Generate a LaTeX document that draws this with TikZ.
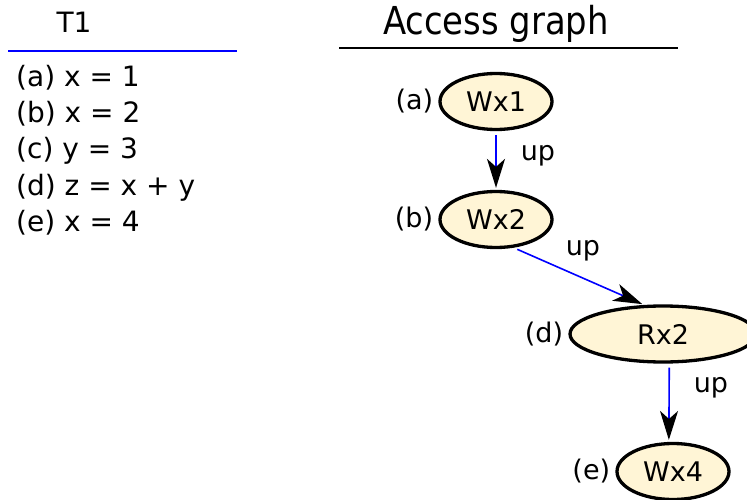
\documentclass[tikz,border=0pt]{standalone}
\usepackage{fontspec}
\setmainfont{DejaVu Sans}
\newfontfamily\narrowfont[FakeStretch=0.88]{DejaVu Sans}
\usetikzlibrary{shapes.geometric,arrows.meta}
\definecolor{accfill}{RGB}{255,245,214}
\begin{document}
\begin{tikzpicture}[x=1pt,y=-1pt,
  txt/.style={font=\fontsize{27}{36}\selectfont, inner sep=0pt},
  stmt/.style={font=\fontsize{28}{36}\selectfont, inner sep=0pt, anchor=base west},
  acc/.style={ellipse, draw, line width=3.3pt, fill=accfill, minimum width=112pt, minimum height=56pt, inner sep=0pt, txt},
  upedge/.style={draw=blue, line width=1.6pt, shorten <=4pt, shorten >=2pt, -{Stealth[black, length=29pt, width=18pt, inset=8pt]}},
  every label/.style={txt}, label distance=5pt]
\useasboundingbox (0,0) rectangle (747,500);
% thread column
\node[stmt, anchor=base] (t1) at (74,33) {T1};
\draw[blue, line width=1.5pt] (8,51) -- (237,51);
\node[stmt] (st0) at (16,87) {(a) x = 1};
\node[stmt] (st1) at (16,123) {(b) x = 2};
\node[stmt] (st2) at (16,159) {(c) y = 3};
\node[stmt] (st3) at (16,195) {(d) z = x + y};
\node[stmt] (st4) at (16,231) {(e) x = 4};
% access graph
\node[inner sep=0pt, anchor=base, font=\narrowfont\fontsize{38.5}{44}\selectfont] (title) at (496,35) {Access graph};
\draw[line width=1.5pt] (339,48) -- (678,48);
\node[acc, label=left:(a)] (wx1) at (496,101.5) {Wx1};
\node[acc, label=left:(b)] (wx2) at (496,219.5) {Wx2};
\node[acc, label=left:(d), minimum width=186pt] (rx2) at (663,334) {Rx2};
\node[acc, label=left:(e)] (wx4) at (673,471.5) {Wx4};
\draw[upedge] (wx1) -- (wx2) node[midway, txt, anchor=west, xshift=24pt, yshift=5pt] {up};
\draw[upedge] (wx2.302) -- (rx2.123) node[midway, txt, xshift=4pt, yshift=26pt] {up};
\draw[upedge] (rx2.282) -- (wx4.98) node[midway, txt, anchor=west, xshift=24pt, yshift=15pt] {up};
\end{tikzpicture}
\end{document}
